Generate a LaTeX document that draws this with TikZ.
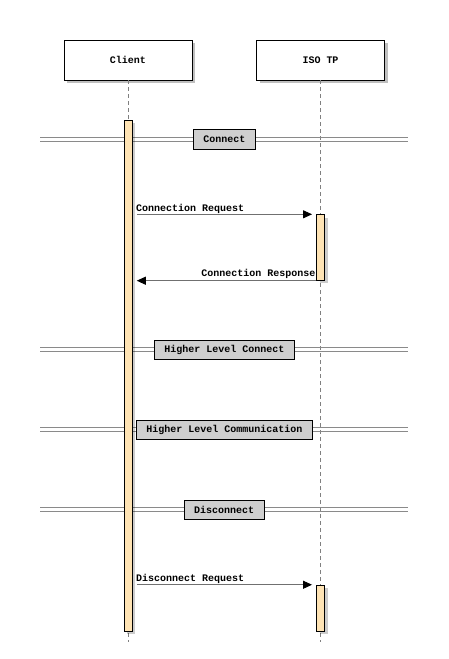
\documentclass[tikz,border=0pt]{standalone}
\usepackage{fontspec}
\setmonofont{Liberation Mono}
\usetikzlibrary{arrows.meta,shadows}
\definecolor{actfill}{HTML}{FEE3B4}
\definecolor{divfill}{HTML}{CFCFCF}
\definecolor{lifegray}{HTML}{808080}
\definecolor{divgray}{HTML}{8A8A8A}
\definecolor{msggray}{HTML}{707070}
\tikzset{
  every node/.style={font=\ttfamily\bfseries\fontsize{10}{12}\selectfont},
  actor/.style={draw=black, line width=0.9pt, fill=white, minimum width=128pt, minimum height=40pt, inner sep=0pt,
    drop shadow={shadow xshift=3pt, shadow yshift=-3pt, fill=black, opacity=0.25}},
  actbar/.style={draw=black, line width=0.9pt, fill=actfill, minimum width=8pt, inner sep=0pt,
    drop shadow={shadow xshift=3pt, shadow yshift=-3pt, fill=black, opacity=0.2}},
  lifeline/.style={draw=lifegray, dashed, dash pattern=on 4pt off 3pt, line width=0.8pt},
  msg/.style={draw=msggray, line width=0.9pt, -{Triangle[length=9pt,width=8pt,fill=black,color=black]}},
  msglabel/.style={inner sep=0pt},
  divline/.style={draw=divgray, line width=1pt},
  divbox/.style={draw=black, line width=0.9pt, fill=divfill, minimum height=19.5pt, inner sep=0pt, font=\ttfamily\bfseries\fontsize{10}{12}\selectfont},
}
\begin{document}
\begin{tikzpicture}[x=1pt,y=-1pt]
\useasboundingbox (0,0) rectangle (448,659);
% actors
\node[actor] (client) at (128,60) {Client};
\node[actor] (iso) at (320.5,60) {ISO TP};
% lifeline ends
\coordinate (clientend) at (128,642);
\coordinate (isoend) at (320.5,642);
\draw[lifeline] (client.south) -- (clientend);
\draw[lifeline] (iso.south) -- (isoend);
% dividers (lines)
\foreach \y in {137.5,347.5,427.8,507.5}{
  \draw[divline] (40,\y) -- (408,\y);
  \draw[divline] (40,\y+3.6) -- (408,\y+3.6);
}
% activation bars
\node[actbar, minimum height=511pt] (clientact) at (128.3,375.5) {};
\node[actbar, minimum height=65.5pt] (isoact1) at (320.5,247.5) {};
\node[actbar, minimum height=46pt] (isoact2) at (320.5,608.2) {};
% divider boxes
\node[divbox, minimum width=62pt] (d1) at (224.5,139.3) {Connect};
\node[divbox, minimum width=140pt] (d2) at (224.3,349.7) {Higher Level Connect};
\node[divbox, minimum width=176pt] (d3) at (224.3,429.7) {Higher Level Communication};
\node[divbox, minimum width=80pt] (d4) at (224.2,509.7) {Disconnect};
% messages
\draw[msg, shorten <=4pt, shorten >=4pt] (clientact.east |- isoact1.north) -- (isoact1.north west);
\node[msglabel, anchor=base west] (l1) at (136,211) {Connection Request};
\draw[msg, shorten >=4pt] (isoact1.south west) -- (clientact.east |- isoact1.south);
\node[msglabel, anchor=base east] (l2) at (315.5,276.5) {Connection Response};
\draw[msg, shorten <=4pt, shorten >=4pt] (clientact.east |- isoact2.north) -- (isoact2.north west);
\node[msglabel, anchor=base west] (l3) at (136,581.5) {Disconnect Request};
\end{tikzpicture}
\end{document}
